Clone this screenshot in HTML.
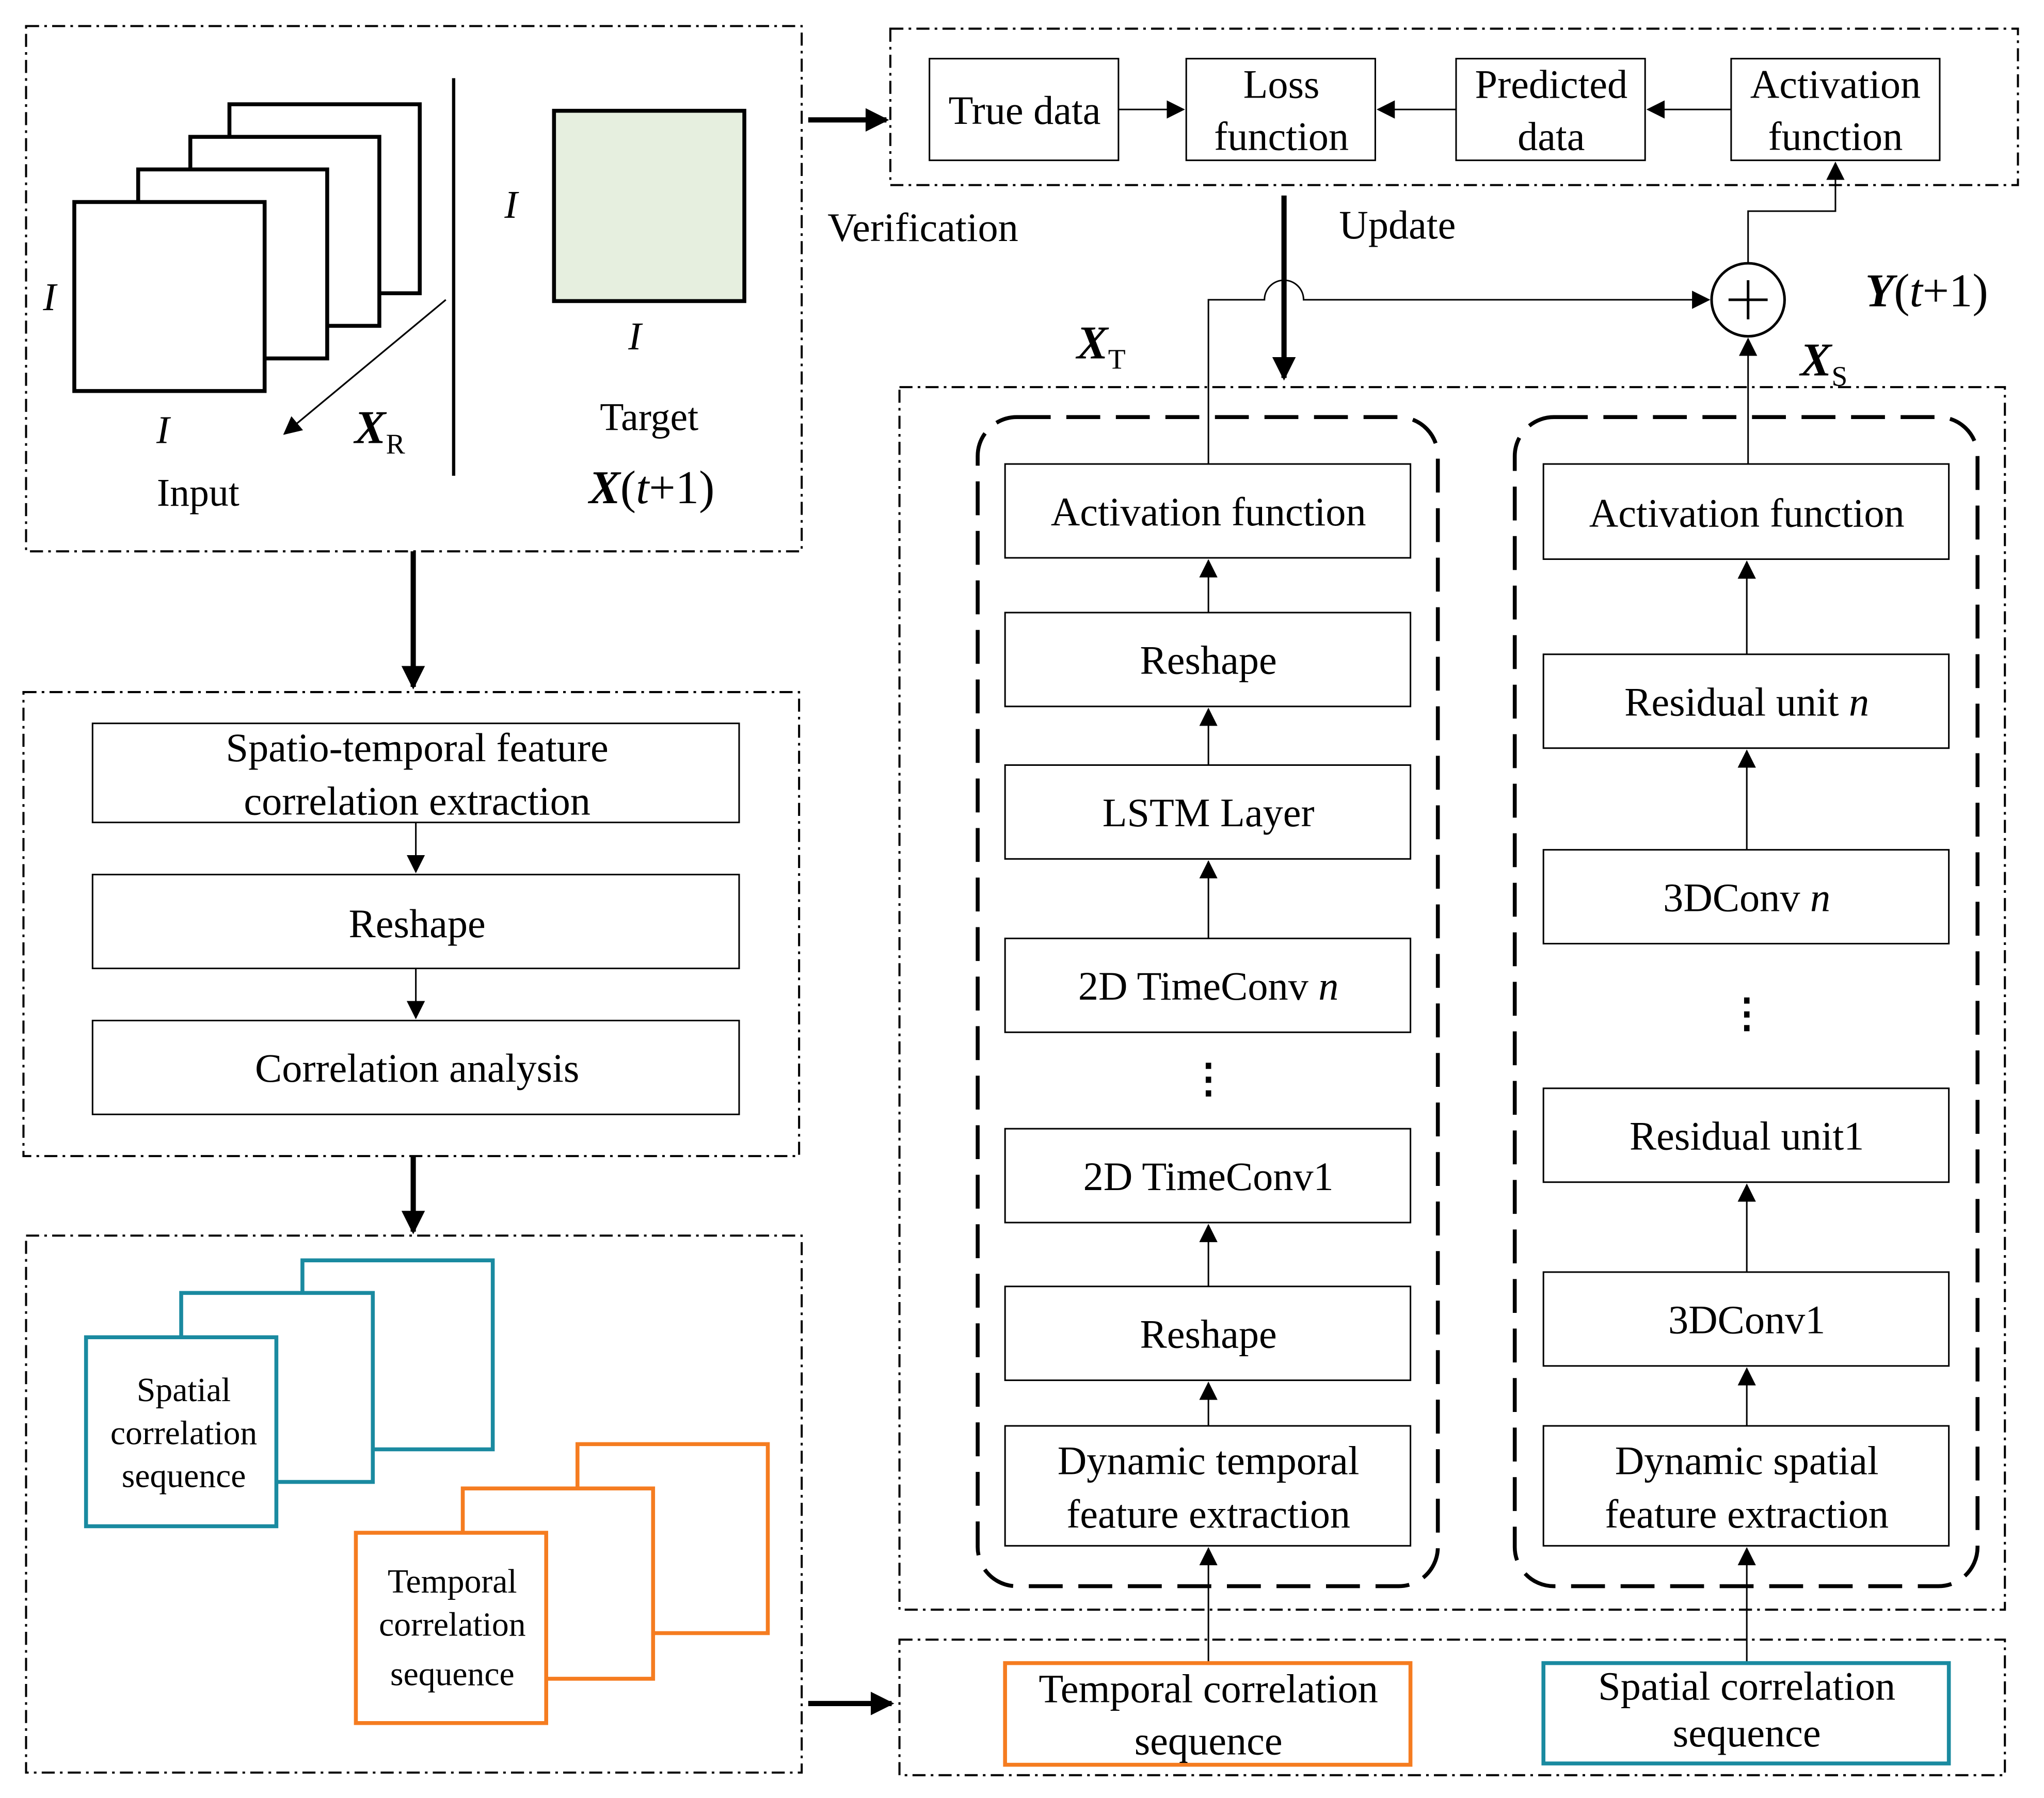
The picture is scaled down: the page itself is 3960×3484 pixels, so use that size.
<!DOCTYPE html>
<html><head><meta charset="utf-8"><style>
html,body{margin:0;padding:0;background:#fff}
svg{display:block}
text{font-family:"Liberation Serif",serif;fill:#000}
</style></head><body>
<svg width="3960" height="3484" viewBox="0 0 1568 1379.5" preserveAspectRatio="none" xmlns="http://www.w3.org/2000/svg">
<defs>
<marker id="a" markerWidth="10" markerHeight="10" refX="9" refY="5" orient="auto" markerUnits="userSpaceOnUse"><path d="M0,0 L10,5 L0,10z" fill="#000"/></marker>
<marker id="b" markerWidth="14" markerHeight="14" refX="13" refY="7" orient="auto" markerUnits="userSpaceOnUse"><path d="M0,0 L14,7 L0,14z" fill="#000"/></marker>
<marker id="c" markerWidth="18" markerHeight="18" refX="16" refY="9" orient="auto" markerUnits="userSpaceOnUse"><path d="M0,0 L18,9 L0,18z" fill="#000"/></marker>
</defs>
<g fill="none" stroke="#000" stroke-width="1.6" stroke-dasharray="10,4,2,4">
<rect x="20" y="20" width="595" height="403"/>
<rect x="683" y="22" width="865" height="120"/>
<rect x="18" y="531" width="595" height="356"/>
<rect x="20" y="948" width="595" height="412"/>
<rect x="690" y="297" width="848" height="938"/>
<rect x="690" y="1258" width="848" height="104"/>
</g>
<g fill="none" stroke="#000" stroke-width="3" stroke-dasharray="26,12">
<rect x="750" y="320" width="353" height="897" rx="30"/>
<rect x="1162" y="320" width="355" height="897" rx="30"/>
</g>
<g fill="#fff" stroke="#000" stroke-width="3">
<rect x="176" y="80" width="146" height="145"/>
<rect x="146" y="105" width="145" height="145"/>
<rect x="106" y="130" width="145" height="145"/>
<rect x="57" y="155" width="146" height="145"/>
</g>
<rect x="425" y="85" width="146" height="146" fill="#e6efdf" stroke="#000" stroke-width="3"/>
<line x1="348" y1="60" x2="348" y2="365" stroke="#000" stroke-width="2.5"/>
<line x1="342" y1="230" x2="218" y2="333" stroke="#000" stroke-width="1.3" marker-end="url(#b)"/>
<g font-size="30">
<text x="38" y="238" text-anchor="middle" font-style="italic">I</text>
<text x="125" y="340" text-anchor="middle" font-style="italic">I</text>
<text x="152" y="388" text-anchor="middle">Input</text>
<text x="392" y="167" text-anchor="middle" font-style="italic">I</text>
<text x="487" y="268" text-anchor="middle" font-style="italic">I</text>
<text x="498" y="330" text-anchor="middle">Target</text>
<text x="500" y="386" text-anchor="middle" font-size="36"><tspan font-weight="bold" font-style="italic">X</tspan>(<tspan font-style="italic">t</tspan>+1)</text>
<text x="272" y="340" font-size="36" font-weight="bold" font-style="italic">X<tspan font-size="22" font-weight="normal" font-style="normal" dy="8">R</tspan></text>
</g>
<g fill="#fff" stroke="#000" stroke-width="1.2">
<rect x="713" y="45" width="145" height="78"/>
<rect x="910" y="45" width="145" height="78"/>
<rect x="1117" y="45" width="145" height="78"/>
<rect x="1328" y="45" width="160" height="78"/>
</g>
<g font-size="31" text-anchor="middle">
<text x="786" y="95">True data</text>
<text x="983" y="75">Loss</text><text x="983" y="115">function</text>
<text x="1190" y="75">Predicted</text><text x="1190" y="115">data</text>
<text x="1408" y="75">Activation</text><text x="1408" y="115">function</text>
<text x="708" y="185">Verification</text>
<text x="1072" y="183">Update</text>
</g>
<g stroke="#000" stroke-width="1.2" fill="none">
<line x1="858" y1="84" x2="908" y2="84" marker-end="url(#b)"/>
<line x1="1117" y1="84" x2="1057" y2="84" marker-end="url(#b)"/>
<line x1="1328" y1="84" x2="1264" y2="84" marker-end="url(#b)"/>
<polyline points="1341,202 1341,162 1408,162 1408,125" marker-end="url(#b)"/>
<path d="M927,356 L927,230 L970,230 A15,15 0 0 1 1000,230 L1311,230" marker-end="url(#b)"/>
<line x1="1341" y1="356" x2="1341" y2="260" marker-end="url(#b)"/>
</g>
<circle cx="1341" cy="230" r="28" fill="#fff" stroke="#000" stroke-width="2"/>
<line x1="1326" y1="230" x2="1356" y2="230" stroke="#000" stroke-width="2"/>
<line x1="1341" y1="215" x2="1341" y2="245" stroke="#000" stroke-width="2"/>
<text x="1478" y="235" font-size="36" text-anchor="middle"><tspan font-weight="bold" font-style="italic">Y</tspan>(<tspan font-style="italic">t</tspan>+1)</text>
<text x="826" y="275" font-size="36" font-weight="bold" font-style="italic">X<tspan font-size="22" font-weight="normal" font-style="normal" dy="8">T</tspan></text>
<text x="1381" y="288" font-size="36" font-weight="bold" font-style="italic">X<tspan font-size="22" font-weight="normal" font-style="normal" dy="8">S</tspan></text>
<g stroke="#000" stroke-width="4">
<line x1="620" y1="92" x2="680" y2="92" marker-end="url(#c)"/>
<line x1="985" y1="150" x2="985" y2="290" marker-end="url(#c)"/>
<line x1="317" y1="423" x2="317" y2="527" marker-end="url(#c)"/>
<line x1="317" y1="887" x2="317" y2="945" marker-end="url(#c)"/>
<line x1="620" y1="1307" x2="684" y2="1307" marker-end="url(#c)"/>
</g>
<g fill="#fff" stroke="#000" stroke-width="1.2">
<rect x="71" y="555" width="496" height="76"/>
<rect x="71" y="671" width="496" height="72"/>
<rect x="71" y="783" width="496" height="72"/>
</g>
<g stroke="#000" stroke-width="1.2">
<line x1="319" y1="631" x2="319" y2="669" marker-end="url(#b)"/>
<line x1="319" y1="743" x2="319" y2="781" marker-end="url(#b)"/>
</g>
<g font-size="31" text-anchor="middle">
<text x="320" y="584">Spatio-temporal feature</text>
<text x="320" y="625">correlation extraction</text>
<text x="320" y="719">Reshape</text>
<text x="320" y="830">Correlation analysis</text>
</g>
<g fill="#fff" stroke="#1a8aa0" stroke-width="3">
<rect x="232" y="967" width="146" height="145"/>
<rect x="139" y="992" width="147" height="145"/>
<rect x="66" y="1026" width="146" height="145"/>
</g>
<g fill="#fff" stroke="#f57c20" stroke-width="3">
<rect x="443" y="1108" width="146" height="145"/>
<rect x="355" y="1142" width="146" height="146"/>
<rect x="273" y="1176" width="146" height="146"/>
</g>
<g font-size="26" text-anchor="middle">
<text x="141" y="1075">Spatial</text><text x="141" y="1108">correlation</text><text x="141" y="1141">sequence</text>
<text x="347" y="1222">Temporal</text><text x="347" y="1255">correlation</text><text x="347" y="1293">sequence</text>
</g>
<g fill="#fff" stroke="#000" stroke-width="1.2">
<rect x="771" y="356" width="311" height="72"/>
<rect x="771" y="470" width="311" height="72"/>
<rect x="771" y="587" width="311" height="72"/>
<rect x="771" y="720" width="311" height="72"/>
<rect x="771" y="866" width="311" height="72"/>
<rect x="771" y="987" width="311" height="72"/>
<rect x="771" y="1094" width="311" height="92"/>
<rect x="1184" y="356" width="311" height="73"/>
<rect x="1184" y="502" width="311" height="72"/>
<rect x="1184" y="652" width="311" height="72"/>
<rect x="1184" y="835" width="311" height="72"/>
<rect x="1184" y="976" width="311" height="72"/>
<rect x="1184" y="1094" width="311" height="92"/>
</g>
<g stroke="#000" stroke-width="1.2">
<line x1="927" y1="470" x2="927" y2="430" marker-end="url(#b)"/>
<line x1="927" y1="587" x2="927" y2="544" marker-end="url(#b)"/>
<line x1="927" y1="720" x2="927" y2="661" marker-end="url(#b)"/>
<line x1="927" y1="987" x2="927" y2="940" marker-end="url(#b)"/>
<line x1="927" y1="1094" x2="927" y2="1061" marker-end="url(#b)"/>
<line x1="927" y1="1276" x2="927" y2="1188" marker-end="url(#b)"/>
<line x1="1340" y1="502" x2="1340" y2="431" marker-end="url(#b)"/>
<line x1="1340" y1="652" x2="1340" y2="576" marker-end="url(#b)"/>
<line x1="1340" y1="976" x2="1340" y2="909" marker-end="url(#b)"/>
<line x1="1340" y1="1094" x2="1340" y2="1050" marker-end="url(#b)"/>
<line x1="1340" y1="1276" x2="1340" y2="1188" marker-end="url(#b)"/>
</g>
<g font-size="31" text-anchor="middle">
<text x="927" y="403">Activation function</text>
<text x="927" y="517">Reshape</text>
<text x="927" y="634">LSTM Layer</text>
<text x="927" y="767">2D TimeConv <tspan font-style="italic">n</tspan></text>
<text x="927" y="838" font-weight="bold">⋮</text>
<text x="927" y="913">2D TimeConv1</text>
<text x="927" y="1034">Reshape</text>
<text x="927" y="1131">Dynamic temporal</text>
<text x="927" y="1172">feature extraction</text>
<text x="1340" y="404">Activation function</text>
<text x="1340" y="549">Residual unit <tspan font-style="italic">n</tspan></text>
<text x="1340" y="699">3DConv <tspan font-style="italic">n</tspan></text>
<text x="1340" y="788" font-weight="bold">⋮</text>
<text x="1340" y="882">Residual unit1</text>
<text x="1340" y="1023">3DConv1</text>
<text x="1340" y="1131">Dynamic spatial</text>
<text x="1340" y="1172">feature extraction</text>
</g>
<rect x="771" y="1276" width="311" height="78" fill="#fff" stroke="#f57c20" stroke-width="3"/>
<rect x="1184" y="1276" width="311" height="77" fill="#fff" stroke="#1a8aa0" stroke-width="3"/>
<g font-size="31" text-anchor="middle">
<text x="927" y="1306">Temporal correlation</text>
<text x="927" y="1346">sequence</text>
<text x="1340" y="1304">Spatial correlation</text>
<text x="1340" y="1340">sequence</text>
</g>
</svg>
</body></html>
